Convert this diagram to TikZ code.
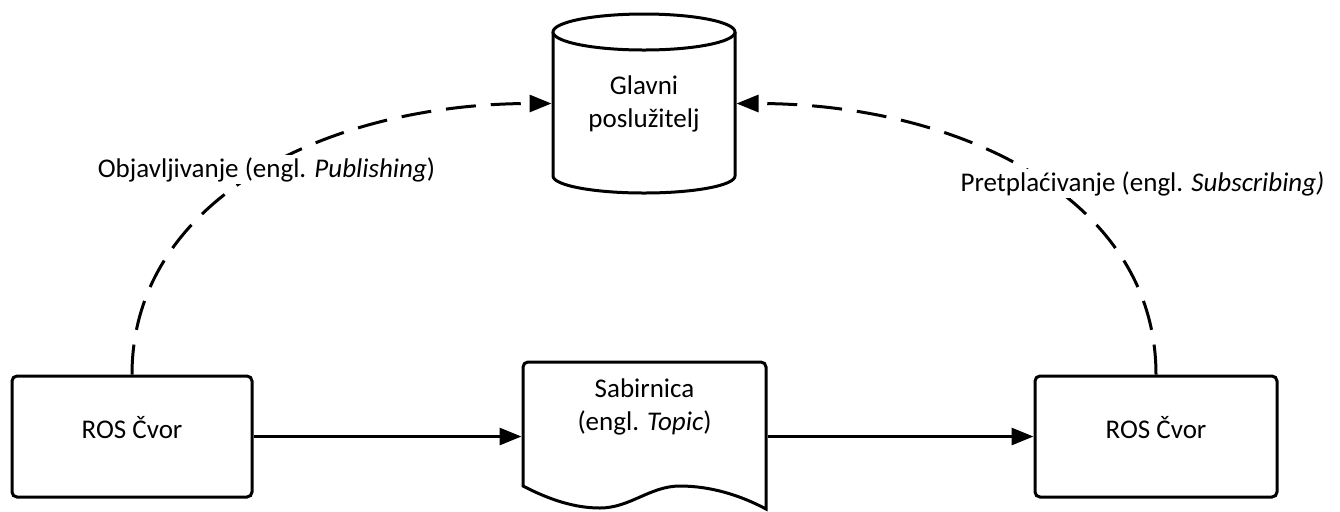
\documentclass[tikz,border=0pt]{standalone}
\usepackage{fontspec}
\setmainfont{Carlito}
\usetikzlibrary{arrows.meta}
\begin{document}
\begin{tikzpicture}[x=0.5pt,y=-0.5pt,
  line width=1.5pt,
  txt/.style={font=\fontsize{13.5}{16.5}\selectfont},
  nodebox/.style={draw, rounded corners=2.5pt, fill=white, minimum width=120pt,
    minimum height=60.5pt, inner sep=0pt, txt, text height=8pt, text depth=6pt},
  holder/.style={inner sep=0pt, draw=none},
  flow/.style={-{Triangle[length=11pt,width=8.5pt]}},
  link/.style={flow, dash pattern=on 15pt off 7.5pt},
  tag/.style={txt, fill=white, inner sep=1pt, anchor=base}]

% canvas
\path[use as bounding box, fill=white] (0,0) rectangle (1340,511);

% database cylinder
\draw[fill=white] (553,32) -- (553,176)
  arc[start angle=180, end angle=0, x radius=91, y radius=17] -- (735,32);
\draw[fill=white] (644,32) ellipse [x radius=91, y radius=18];
\node[holder, txt, align=center, minimum width=91pt, minimum height=89.5pt]
  (db) at (644,103.5) {Glavni\\poslužitelj};

% document shape with wavy bottom
\draw[fill=white] (523,486) -- (523,380) [rounded corners=2.5pt] -- (523,362)
  -- (766,362) -- (766,380) [sharp corners] -- (766,509)
  .. controls (740,495) and (710,486) .. (680,486)
  .. controls (650,486) and (630,508) .. (600,508)
  .. controls (575,508) and (550,500) .. (523,486) -- cycle;
\node[holder, minimum width=121.5pt, minimum height=74.5pt] (doc) at (644.5,436.5) {};
\node[txt, align=center, inner sep=0pt] (doctext) at (644.5,406.6)
  {Sabirnica\\(engl. \textit{Topic})};

% ROS nodes
\node[nodebox] (lbox) at (132,436.5) {ROS Čvor};
\node[nodebox, minimum width=121pt] (rbox) at (1156,436.5) {ROS Čvor};

% message flow
\draw[flow] (lbox.east) -- (doc.west);
\draw[flow] (doc.east) -- (rbox.west);

% communication with the master
\draw[link] (lbox.north) .. controls +(0,-176) and +(-223,0) .. (db.west);
\draw[link] (rbox.north) .. controls +(0,-176) and +(223,0) .. (db.east);

% labels
\node[tag] (pub) at (266.5,177) {Objavljivanje (engl. \textit{Publishing})};
\node[tag] (sub) at (1142.5,191) {Pretplaćivanje (engl. \textit{Subscribing)}};
\end{tikzpicture}
\end{document}
